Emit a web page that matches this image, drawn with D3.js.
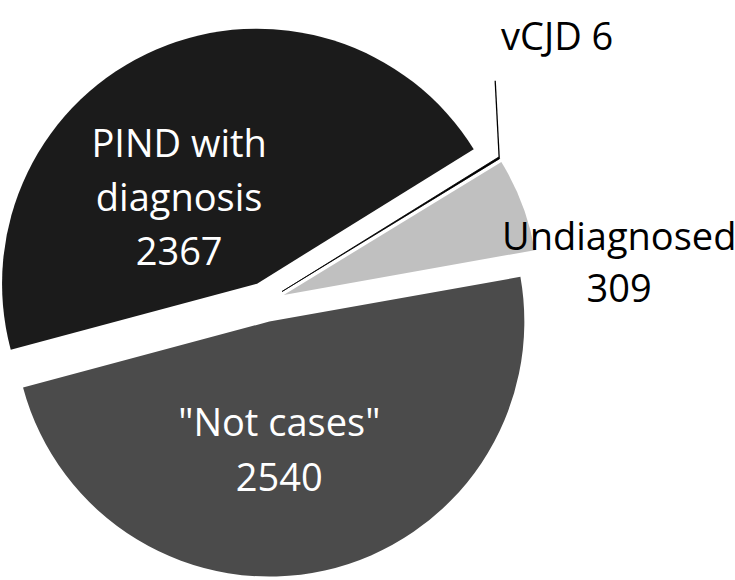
<!DOCTYPE html>
<html>
<head>
<meta charset="utf-8">
<script src="https://cdn.jsdelivr.net/npm/d3@7"></script>
<style>
  html, body { margin: 0; padding: 0; background: #ffffff; }
  svg { display: block; }
</style>
</head>
<body>
<div id="chart"></div>
<script>
// ---- data ----
const categories = ["PIND with diagnosis", "vCJD", "Undiagnosed", "\"Not cases\""];
const values = [2367, 6, 309, 2540];
const categoryLines = [["PIND with", "diagnosis"], ["vCJD"], ["Undiagnosed"], ["\"Not cases\""]];
const valueOnSameLine = [false, true, false, false];
const colors = ["#1b1b1b", "#000000", "#c0c0c0", "#4b4b4b"];
const labelColors = ["#ffffff", "#000000", "#000000", "#ffffff"];

// ---- layout ----
const width = 735, height = 580;
const cx = 265, cy = 302, radius = 255, explode = 20;
const deg = Math.PI / 180;
const startAngle = -105 * deg;
const fontSize = 38, capHalf = 13;
const lineHeights = [54, 52, 52, 55];
// label anchor, polar from the exploded slice apex: [angle in degrees (clockwise from 12 o'clock), distance]
const labelPolar = [[-42.2, 116], [47.2, 375], [84.6, 337], [175.6, 129]];

const svg = d3.select("#chart").append("svg")
  .attr("width", width).attr("height", height)
  .style("font-family", "'Open Sans', 'Noto Sans', sans-serif");

svg.append("rect").attr("width", width).attr("height", height).attr("fill", "#ffffff");

const pie = d3.pie().sort(null).value(d => d)
  .startAngle(startAngle).endAngle(startAngle + 2 * Math.PI);
const arcs = pie(values);
const arc = d3.arc().innerRadius(0).outerRadius(radius);

const g = svg.append("g").attr("transform", `translate(${cx},${cy})`);

arcs.forEach((a, i) => {
  const mid = (a.startAngle + a.endAngle) / 2;
  const ox = explode * Math.sin(mid), oy = -explode * Math.cos(mid);
  const sg = g.append("g").attr("transform", `translate(${ox},${oy})`);
  sg.append("path").attr("d", arc(a)).attr("fill", colors[i])
    .attr("stroke", i === 1 ? "#000000" : "none").attr("stroke-width", i === 1 ? 0.8 : 0);

  const [la, lr] = labelPolar[i];
  const lx = ox + lr * Math.sin(la * deg);
  const ly = oy - lr * Math.cos(la * deg);
  const lines = categoryLines[i].slice();
  if (valueOnSameLine[i]) lines[lines.length - 1] += " " + values[i];
  else lines.push(String(values[i]));
  const lh = lineHeights[i];
  const firstBase = ly - (lines.length - 1) * lh / 2 + capHalf;
  const t = g.append("text").attr("text-anchor", "middle")
    .attr("font-size", fontSize).attr("fill", labelColors[i]);
  lines.forEach((ln, k) => {
    t.append("tspan").attr("x", lx).attr("y", firstBase + k * lh).text(ln);
  });

  if (i === 1) {
    // leader line from slice edge up toward the label
    const ex = ox + (radius) * Math.sin(mid);
    const ey = oy - (radius) * Math.cos(mid);
    g.append("line")
      .attr("x1", ex).attr("y1", ey)
      .attr("x2", ex - 4).attr("y2", ly + 44)
      .attr("stroke", "#000000").attr("stroke-width", 1.3);
  }
});
</script>
</body>
</html>
